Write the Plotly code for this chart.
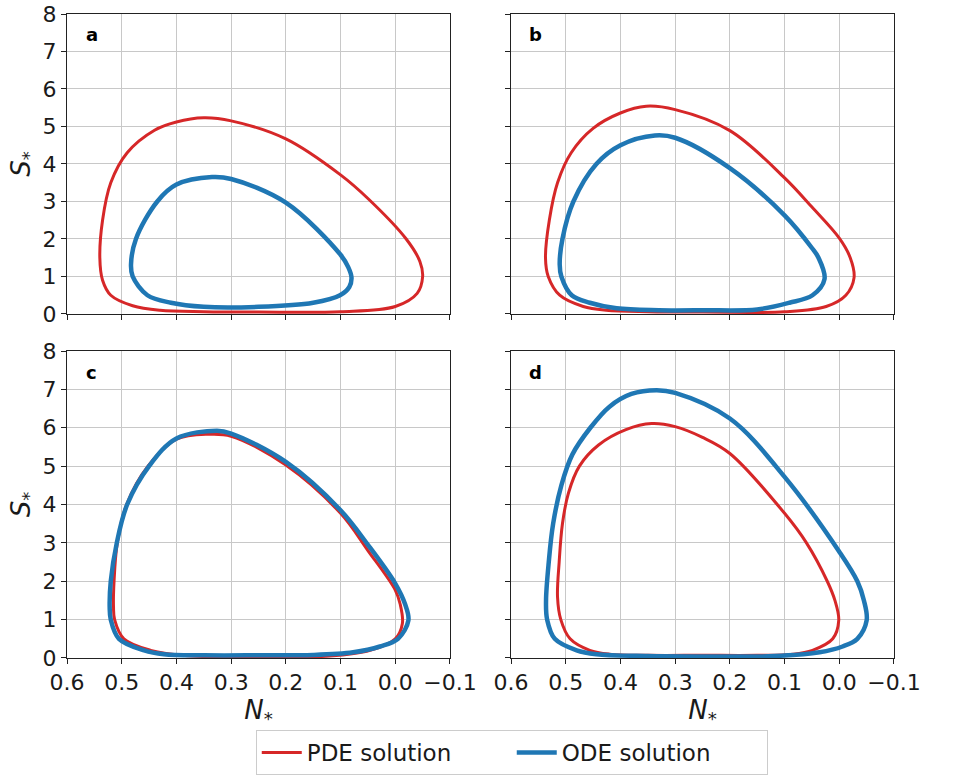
import plotly.graph_objects as go
from plotly.subplots import make_subplots

# ---- data ----
panel_labels = ["a", "b", "c", "d"]
x_ticks = [0.6, 0.5, 0.4, 0.3, 0.2, 0.1, 0.0, -0.1]
x_tick_text = ["0.6", "0.5", "0.4", "0.3", "0.2", "0.1", "0.0", "\u22120.1"]
y_ticks = [0, 1, 2, 3, 4, 5, 6, 7, 8]

pde_a_N = [0.25, 0.10, 0.0, -0.04, -0.05, -0.045, -0.02, 0.05, 0.1, 0.2, 0.3, 0.35, 0.4, 0.44, 0.49, 0.52, 0.535, 0.540, 0.535, 0.52, 0.48, 0.43, 0.35, 0.25]
pde_a_S = [0.05, 0.06, 0.2, 0.55, 1.0, 1.4, 2.0, 3.08, 3.71, 4.67, 5.15, 5.23, 5.12, 4.9, 4.3, 3.5, 2.5, 1.5, 0.9, 0.5, 0.22, 0.1, 0.06, 0.05]
ode_a_N = [0.25, 0.15, 0.101, 0.084, 0.08, 0.086, 0.1, 0.2, 0.3, 0.335, 0.4, 0.435, 0.474, 0.483, 0.48, 0.453, 0.41, 0.35, 0.25]
ode_a_S = [0.19, 0.3, 0.5, 0.72, 0.97, 1.25, 1.58, 2.97, 3.6, 3.65, 3.45, 3.0, 2.0, 1.32, 1.0, 0.5, 0.3, 0.19, 0.19]

pde_b_N = [0.25, 0.1, 0.024, -0.012, -0.027, -0.02, 0.0, 0.05, 0.1, 0.2, 0.3, 0.353, 0.4, 0.45, 0.49, 0.515, 0.53, 0.537, 0.532, 0.511, 0.468, 0.426, 0.35, 0.25]
pde_b_S = [0.05, 0.06, 0.2, 0.5, 0.97, 1.5, 2.02, 2.85, 3.63, 4.89, 5.45, 5.54, 5.36, 4.95, 4.3, 3.5, 2.5, 1.5, 1.0, 0.5, 0.2, 0.1, 0.06, 0.05]
ode_b_N = [0.25, 0.15, 0.091, 0.049, 0.027, 0.038, 0.05, 0.1, 0.2, 0.3, 0.337, 0.4, 0.444, 0.486, 0.506, 0.511, 0.508, 0.489, 0.456, 0.407, 0.33, 0.25]
ode_b_S = [0.1, 0.12, 0.3, 0.5, 0.93, 1.5, 1.76, 2.63, 3.89, 4.7, 4.76, 4.5, 4.0, 3.0, 2.0, 1.32, 1.0, 0.5, 0.3, 0.15, 0.1, 0.1]

pde_c_N = [0.25, 0.12, 0.046, 0.0, -0.013, -0.009, 0.0, 0.05, 0.1, 0.2, 0.3, 0.341, 0.4, 0.452, 0.491, 0.508, 0.514, 0.515, 0.513, 0.496, 0.447, 0.38, 0.25]
pde_c_S = [0.04, 0.05, 0.2, 0.5, 0.9, 1.4, 1.77, 2.8, 3.77, 5.03, 5.78, 5.83, 5.7, 5.0, 4.0, 3.0, 2.0, 1.33, 1.0, 0.5, 0.2, 0.06, 0.04]
ode_c_N = [0.25, 0.15, 0.077, 0.028, -0.005, -0.024, -0.018, 0.0, 0.05, 0.1, 0.2, 0.3, 0.326, 0.4, 0.45, 0.49, 0.509, 0.52, 0.522, 0.52, 0.505, 0.459, 0.423, 0.35, 0.25]
ode_c_S = [0.07, 0.08, 0.15, 0.3, 0.5, 0.98, 1.4, 1.94, 2.95, 3.85, 5.11, 5.85, 5.92, 5.72, 5.0, 4.0, 3.0, 2.0, 1.33, 1.0, 0.5, 0.2, 0.1, 0.07, 0.07]

pde_d_N = [0.25, 0.15, 0.085, 0.049, 0.012, 0.001, 0.008, 0.022, 0.06, 0.1, 0.2, 0.25, 0.3, 0.343, 0.39, 0.44, 0.475, 0.495, 0.506, 0.512, 0.515, 0.509, 0.492, 0.456, 0.42, 0.35, 0.25]
pde_d_S = [0.07, 0.07, 0.1, 0.2, 0.5, 0.98, 1.5, 2.0, 3.0, 3.77, 5.33, 5.75, 6.03, 6.11, 5.95, 5.55, 5.0, 4.3, 3.5, 2.5, 1.59, 1.0, 0.5, 0.2, 0.1, 0.07, 0.07]
ode_d_N = [0.25, 0.12, 0.036, -0.006, -0.033, -0.05, -0.045, -0.033, 0.0, 0.1, 0.2, 0.3, 0.334, 0.38, 0.42, 0.455, 0.488, 0.508, 0.523, 0.531, 0.536, 0.534, 0.52, 0.48, 0.444, 0.35, 0.25]
ode_d_S = [0.04, 0.05, 0.15, 0.3, 0.5, 0.98, 1.5, 2.0, 2.77, 4.72, 6.24, 6.91, 6.98, 6.88, 6.55, 6.0, 5.3, 4.5, 3.5, 2.5, 1.5, 1.0, 0.5, 0.2, 0.1, 0.05, 0.04]

pde = [(pde_a_N, pde_a_S), (pde_b_N, pde_b_S), (pde_c_N, pde_c_S), (pde_d_N, pde_d_S)]
ode = [(ode_a_N, ode_a_S), (ode_b_N, ode_b_S), (ode_c_N, ode_c_S), (ode_d_N, ode_d_S)]

RED = "#d62728"
BLUE = "#1f77b4"
FONT = "DejaVu Sans"
TXT = "#1a1a1a"

fig = make_subplots(rows=2, cols=2, horizontal_spacing=0.0738, vertical_spacing=0.0568)

for i in range(4):
    r, c = i // 2 + 1, i % 2 + 1
    fig.add_trace(go.Scatter(x=pde[i][0], y=pde[i][1], mode="lines",
                             line=dict(color=RED, width=3, shape="spline", smoothing=1.0),
                             name="PDE solution", showlegend=(i == 0)), row=r, col=c)
    fig.add_trace(go.Scatter(x=ode[i][0], y=ode[i][1], mode="lines",
                             line=dict(color=BLUE, width=4.5, shape="spline", smoothing=1.0),
                             name="ODE solution", showlegend=(i == 0)), row=r, col=c)

axis_common = dict(showline=True, linecolor="#222", linewidth=1, mirror=True,
                   ticks="outside", ticklen=5, tickcolor="#222", automargin=False,
                   ticklabeloverflow="allow",
                   showgrid=True, gridcolor="#c8c8c8", gridwidth=1, zeroline=False,
                   tickfont=dict(family=FONT, size=22, color=TXT))

for i in range(4):
    r, c = i // 2 + 1, i % 2 + 1
    fig.update_xaxes(range=[0.6, -0.1], tickvals=x_ticks, ticktext=x_tick_text,
                     showticklabels=(r == 2), row=r, col=c, **axis_common)
    fig.update_yaxes(range=[0, 8], tickvals=y_ticks, showticklabels=(c == 1),
                     row=r, col=c, **axis_common)
    if r == 2:
        fig.update_xaxes(title=dict(text="<i>N</i><sub>*</sub>", standoff=2,
                                    font=dict(family=FONT, size=26, color=TXT)), row=r, col=c)
    if c == 1:
        fig.update_yaxes(title=dict(text="<i>S</i><sub>*</sub>", standoff=4,
                                    font=dict(family=FONT, size=26, color=TXT)), row=r, col=c)

fig.update_xaxes(domain=[0, 0.4631], col=1)
fig.update_xaxes(domain=[0.5369, 1.0], col=2)
fig.update_yaxes(domain=[0.5342, 1.0], row=1)
fig.update_yaxes(domain=[0.0, 0.4767], row=2)

for i, lab in enumerate(panel_labels):
    xref = "x domain" if i == 0 else f"x{i+1} domain"
    yref = "y domain" if i == 0 else f"y{i+1} domain"
    fig.add_annotation(text=f"<b>{lab}</b>", x=0.064, y=0.93, xref=xref, yref=yref,
                       showarrow=False, xanchor="center", yanchor="middle",
                       font=dict(family=FONT, size=18, color="black"))

fig.update_layout(
    width=953, height=776,
    margin=dict(l=67, r=59, t=14, b=118, autoexpand=False),
    paper_bgcolor="white", plot_bgcolor="white",
    font=dict(family=FONT, color=TXT),
    legend=dict(orientation="h", xref="container", yref="container",
                x=0.537, xanchor="center", y=1 - 730 / 776, yanchor="top",
                bgcolor="white", bordercolor="#cccccc", borderwidth=1,
                font=dict(family=FONT, size=23, color=TXT),
                itemwidth=40, entrywidth=200),
)

fig.write_html("out.html")
